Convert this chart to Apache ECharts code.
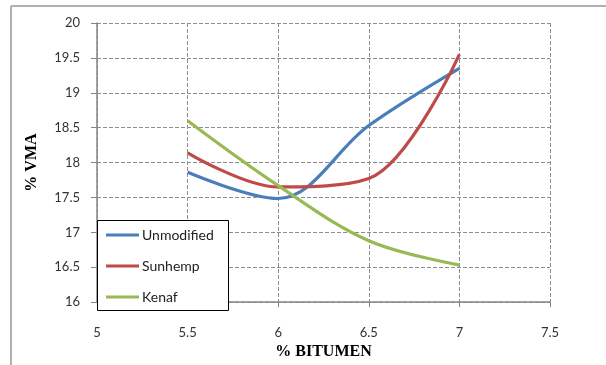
<!DOCTYPE html>
<html>
<head>
<meta charset="utf-8">
<style>
  html, body { margin: 0; padding: 0; background: #fff; }
  #chart { width: 606px; height: 365px; }
</style>
<script src="https://cdn.jsdelivr.net/npm/echarts@6/dist/echarts.min.js"></script>
</head>
<body>
<div id="chart"></div>
<script>
// Bitumen content (%) on the x axis
const bitumen = [5.5, 6, 6.5, 7];

// Voids in mineral aggregate (%) for each mix
const unmodified = [17.86, 17.485, 18.53, 19.35];
const sunhemp    = [18.14, 17.65, 17.77, 19.55];
const kenaf      = [18.60, 17.67, 16.88, 16.53];

const seriesNames = ['Unmodified', 'Sunhemp', 'Kenaf'];
const seriesColors = ['#4a7ebb', '#be4b48', '#98b954'];

const chart = echarts.init(document.getElementById('chart'));

const pairs = vals => bitumen.map((b, i) => [b, vals[i]]);
const lineSeries = (name, vals, color) => ({
  name: name,
  type: 'line',
  data: pairs(vals),
  smooth: 0.35,
  showSymbol: false,
  symbol: 'none',
  lineStyle: { color: color, width: 3.2 },
  itemStyle: { color: color },
  z: 3
});

const labelFont = { fontFamily: 'Lato', fontSize: 13, color: '#333' };
const titleFont = { fontFamily: 'Liberation Serif', fontWeight: 'bold', fontSize: 16, color: '#000' };

chart.setOption({
  animation: false,
  backgroundColor: '#fff',
  grid: { left: 97, right: 56, top: 23, bottom: 55, containLabel: false },
  xAxis: {
    type: 'value',
    min: 5, max: 7.5, interval: 0.5,
    name: '% BITUMEN',
    nameLocation: 'middle',
    nameGap: 40,
    nameTextStyle: titleFont,
    axisLine: { show: true, lineStyle: { color: '#868686', width: 1.5 } },
    axisTick: { show: true, length: 5, lineStyle: { color: '#868686' } },
    axisLabel: Object.assign({ margin: 24 }, labelFont),
    splitLine: { show: true, lineStyle: { color: '#8c8c8c', type: [4, 2], width: 1 } }
  },
  yAxis: {
    type: 'value',
    min: 16, max: 20, interval: 0.5,
    name: '% VMA',
    nameLocation: 'middle',
    nameGap: 57,
    nameRotate: 90,
    nameTextStyle: titleFont,
    axisLine: { show: true, lineStyle: { color: '#868686', width: 1.5 } },
    axisTick: { show: true, length: 6, inside: false, lineStyle: { color: '#868686' } },
    axisLabel: Object.assign({ margin: 17 }, labelFont),
    splitLine: { show: true, lineStyle: { color: '#8c8c8c', type: [4, 2], width: 1 } }
  },
  legend: {
    orient: 'vertical',
    left: 98,
    top: 228,
    z: 20,
    itemGap: 17,
    itemWidth: 33,
    itemHeight: 3,
    icon: 'rect',
    padding: [0, 0, 0, 8],
    textStyle: { fontFamily: 'Lato', fontSize: 14, color: '#222', padding: [0, 0, 0, -2] },
    data: seriesNames
  },
  graphic: [
    // chart-area frame edges
    { type: 'line', shape: { x1: 11, y1: 6, x2: 606, y2: 6 }, style: { stroke: '#b0b0b0', lineWidth: 2 }, z: 1 },
    { type: 'line', shape: { x1: 11, y1: 6, x2: 11, y2: 365 }, style: { stroke: '#b0b0b0', lineWidth: 2 }, z: 1 },
    // legend box
    { type: 'rect', shape: { x: 97.5, y: 220.5, width: 131, height: 90 },
      style: { fill: '#fff', stroke: '#000', lineWidth: 1 }, z: 10 }
  ],
  series: [
    lineSeries(seriesNames[0], unmodified, seriesColors[0]),
    lineSeries(seriesNames[1], sunhemp, seriesColors[1]),
    lineSeries(seriesNames[2], kenaf, seriesColors[2])
  ]
});
</script>
</body>
</html>
